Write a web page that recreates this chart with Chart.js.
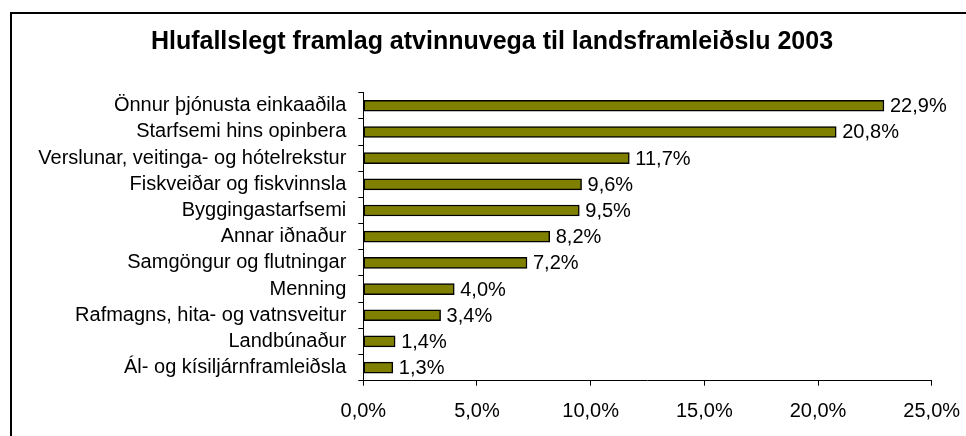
<!DOCTYPE html>
<html>
<head>
<meta charset="utf-8">
<script src="https://cdn.jsdelivr.net/npm/chart.js@4.4.1/dist/chart.umd.min.js"></script>
<style>
  html, body { margin: 0; padding: 0; background: #fff; overflow: hidden; }
  canvas { display: block; }
</style>
</head>
<body>
<canvas id="chart" width="966" height="436"></canvas>
<script>
// data
const categories = [
    'Önnur þjónusta einkaaðila',
    'Starfsemi hins opinbera',
    'Verslunar, veitinga- og hótelrekstur',
    'Fiskveiðar og fiskvinnsla',
    'Byggingastarfsemi',
    'Annar iðnaður',
    'Samgöngur og flutningar',
    'Menning',
    'Rafmagns, hita- og vatnsveitur',
    'Landbúnaður',
    'Ál- og kísiljárnframleiðsla'
];
const shares = [22.9, 20.8, 11.7, 9.6, 9.5, 8.2, 7.2, 4.0, 3.4, 1.4, 1.3];
const xTicks = [0, 5, 10, 15, 20, 25];
const chartTitle = 'Hlufallslegt framlag atvinnuvega til landsframleiðslu 2003';

const FONT = "'Liberation Sans', Arial, sans-serif";
const fmt = v => v.toFixed(1).replace('.', ',') + '%';

// white background, the frame (runs off the right/bottom edge) and the title,
// centred on the original frame rather than on the canvas
const framePlugin = {
    id: 'frame',
    beforeDraw(chart) {
        const ctx = chart.ctx;
        ctx.save();
        ctx.fillStyle = '#fff';
        ctx.fillRect(0, 0, chart.width, chart.height);
        ctx.strokeStyle = '#000';
        ctx.lineWidth = 2;
        ctx.strokeRect(11, 13, 1200, 1200);
        ctx.fillStyle = '#000';
        ctx.font = `bold 25px ${FONT}`;
        ctx.textAlign = 'center';
        ctx.textBaseline = 'middle';
        ctx.fillText(chartTitle, 492, 42);
        ctx.restore();
    }
};

// value labels at the end of each bar
const valueLabels = {
    id: 'valueLabels',
    afterDatasetsDraw(chart) {
        const ctx = chart.ctx;
        const meta = chart.getDatasetMeta(0);
        ctx.save();
        ctx.font = `20px ${FONT}`;
        ctx.fillStyle = '#000';
        ctx.textAlign = 'left';
        ctx.textBaseline = 'middle';
        meta.data.forEach((bar, i) => {
            ctx.fillText(fmt(shares[i]), bar.x + 6, bar.y + 1);
        });
        ctx.restore();
    }
};

new Chart(document.getElementById('chart'), {
    type: 'bar',
    data: {
        labels: categories,
        datasets: [{
            data: shares,
            backgroundColor: '#808000',
            borderColor: '#000',
            borderWidth: 1.5,
            borderSkipped: false,
            barThickness: 11
        }]
    },
    options: {
        indexAxis: 'y',
        responsive: false,
        animation: false,
        layout: { padding: { left: 0, right: 34.3, top: 92.7, bottom: 0 } },
        plugins: {
            legend: { display: false },
            tooltip: { enabled: false },
            title: { display: false }
        },
        scales: {
            y: {
                afterFit: s => { s.width = 363.3; },
                grid: { display: true, drawOnChartArea: false, drawTicks: true, tickLength: 5, color: '#000', offset: true },
                border: { display: true, color: '#000', width: 1 },
                ticks: { color: '#000', padding: 12, autoSkip: false, font: { family: FONT, size: 20 } }
            },
            x: {
                min: 0,
                max: 25,
                afterFit: s => { s.height = 55.3; s.paddingLeft = 0; s.paddingRight = 0; },
                afterBuildTicks: s => { s.ticks = xTicks.map(v => ({ value: v })); },
                grid: { display: true, drawOnChartArea: false, drawTicks: true, tickLength: 5, color: '#000' },
                border: { display: true, color: '#000', width: 1 },
                ticks: { color: '#000', padding: 14, maxRotation: 0, font: { family: FONT, size: 20 }, callback: v => fmt(v) }
            }
        }
    },
    plugins: [framePlugin, valueLabels]
});
</script>
</body>
</html>
